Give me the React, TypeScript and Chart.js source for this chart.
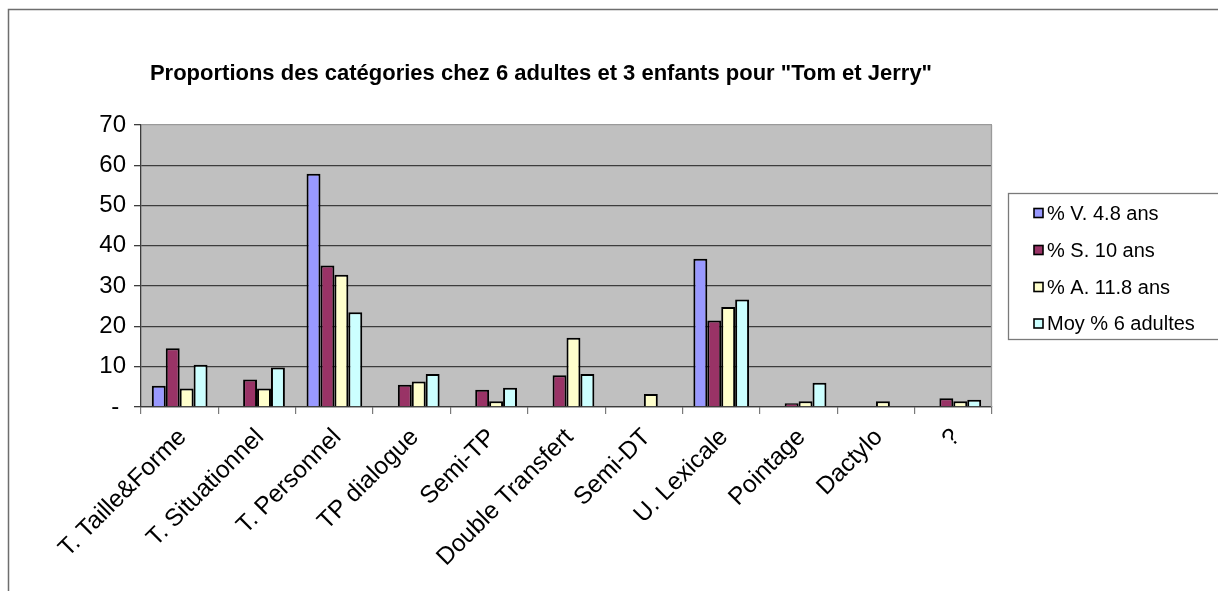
import React, { useEffect, useRef } from 'react';
import { Chart, registerables } from 'chart.js';

Chart.register(...registerables);

const categories = [
  'T. Taille&Forme',
  'T. Situationnel',
  'T. Personnel',
  'TP dialogue',
  'Semi-TP',
  'Double Transfert',
  'Semi-DT',
  'U. Lexicale',
  'Pointage',
  'Dactylo',
  '?',
];

const seriesV = [5.3, 0, 57.9, 0, 0, 0, 0, 36.8, 0, 0, 0];
const seriesS = [14.6, 6.8, 35.1, 5.5, 4.3, 7.9, 0, 21.5, 0.9, 0, 2.2];
const seriesA = [4.6, 4.6, 32.8, 6.3, 1.4, 17.2, 3.2, 24.8, 1.4, 1.4, 1.4];
const seriesM = [10.5, 9.8, 23.5, 8.2, 4.8, 8.2, 0, 26.7, 6.0, 0.2, 1.8];

const seriesLabels = ['% V. 4.8 ans', '% S. 10 ans', '% A. 11.8 ans', 'Moy % 6 adultes'];
const seriesColors = ['#9999ff', '#993366', '#ffffcc', '#ccffff'];

const titleText = 'Proportions des catégories chez 6 adultes et 3 enfants pour "Tom et Jerry"';

const yMin = 0;
const yMax = 70;
const yStep = 10;

const FONT = '"Liberation Sans", Arial, Helvetica, sans-serif';

const decorPlugin = {
  id: 'decor',
  beforeDraw(chart: any) {
    const { ctx, chartArea } = chart;
    ctx.save();
    // outer frame (left + top)
    ctx.strokeStyle = '#6e6e6e';
    ctx.lineWidth = 1.5;
    ctx.beginPath();
    ctx.moveTo(8.5, 600);
    ctx.lineTo(8.5, 9.5);
    ctx.lineTo(1230, 9.5);
    ctx.stroke();
    // plot background
    ctx.fillStyle = '#c0c0c0';
    ctx.fillRect(chartArea.left, chartArea.top, chartArea.right - chartArea.left, chartArea.bottom - chartArea.top);
    ctx.restore();
  },
  afterDraw(chart: any) {
    const { ctx, chartArea } = chart;
    ctx.save();
    // right border of plot
    ctx.strokeStyle = '#9a9a9a';
    ctx.lineWidth = 1.3;
    ctx.beginPath();
    ctx.moveTo(Math.round(chartArea.right) - 0.5, chartArea.top);
    ctx.lineTo(Math.round(chartArea.right) - 0.5, chartArea.bottom);
    ctx.stroke();

    // title
    ctx.fillStyle = '#000';
    ctx.font = 'bold 22px ' + FONT;
    ctx.textAlign = 'center';
    ctx.textBaseline = 'alphabetic';
    ctx.fillText(titleText, 541, 80);

    // legend box
    const bx = 1008.5;
    const by = 193.5;
    const bh = 146;
    ctx.fillStyle = '#ffffff';
    ctx.fillRect(bx, by, 240, bh);
    ctx.strokeStyle = '#7a7a7a';
    ctx.lineWidth = 1.3;
    ctx.strokeRect(bx, by, 240, bh);
    const rows = [213, 250, 287, 323.5];
    ctx.font = '20px ' + FONT;
    ctx.textAlign = 'left';
    ctx.textBaseline = 'middle';
    chart.data.datasets.forEach((ds: any, i: number) => {
      const cy = rows[i];
      ctx.fillStyle = ds.backgroundColor;
      ctx.fillRect(1034, cy - 4.5, 9, 9);
      ctx.strokeStyle = '#000';
      ctx.lineWidth = 1.6;
      ctx.strokeRect(1034, cy - 4.5, 9, 9);
      ctx.fillStyle = '#000';
      ctx.fillText(ds.label, 1047, cy + 1);
    });
    ctx.restore();
  },
};

export default function App() {
  const canvasRef = useRef<HTMLCanvasElement | null>(null);

  useEffect(() => {
    const canvas = canvasRef.current;
    if (!canvas) return;
    const allSeries = [seriesV, seriesS, seriesA, seriesM];
    const chart = new Chart(canvas, {
      type: 'bar',
      data: {
        labels: categories,
        datasets: allSeries.map((d, i) => ({
          label: seriesLabels[i],
          data: d,
          backgroundColor: seriesColors[i],
          borderColor: '#000000',
          borderWidth: 2,
          categoryPercentage: 0.72,
          barPercentage: 1.0,
        })),
      },
      options: {
        responsive: false,
        animation: false,
        devicePixelRatio: 1,
        layout: { padding: { left: 20, top: 125, right: 226, bottom: 0 } },
        plugins: {
          legend: { display: false },
          title: { display: false },
          tooltip: { enabled: false },
        },
        scales: {
          x: {
            afterFit: (scale: any) => {
              scale.height = 184;
            },
            grid: {
              offset: true,
              drawOnChartArea: false,
              drawTicks: true,
              tickLength: 7,
              color: '#7a7a7a',
              lineWidth: 1.2,
            },
            border: { display: true, color: '#3c3c3c', width: 1.3 },
            ticks: {
              autoSkip: false,
              minRotation: 45,
              maxRotation: 45,
              padding: 9,
              labelOffset: 3,
              color: '#000',
              font: { family: FONT, size: 24.5 },
            },
          },
          y: {
            min: yMin,
            max: yMax,
            afterFit: (scale: any) => {
              scale.width = 121;
            },
            grid: {
              color: (c: any) => (c.tick && c.tick.value === yMax ? '#9a9a9a' : '#3c3c3c'),
              lineWidth: 1.3,
              tickLength: 7,
              tickColor: '#3c3c3c',
            },
            border: { display: true, color: '#3c3c3c', width: 1.3 },
            ticks: {
              stepSize: yStep,
              padding: 8,
              color: '#000',
              font: { family: FONT, size: 24 },
              callback: (v: any) => (Number(v) === 0 ? '- ' : String(v)),
            },
          },
        },
      },
      plugins: [decorPlugin],
    });
    return () => chart.destroy();
  }, []);

  return (
    <div style={{ position: 'fixed', left: 0, top: 0, width: 1218, height: 591, background: '#fff' }}>
      <canvas ref={canvasRef} width={1218} height={591} style={{ display: 'block', width: 1218, height: 591 }} />
    </div>
  );
}
